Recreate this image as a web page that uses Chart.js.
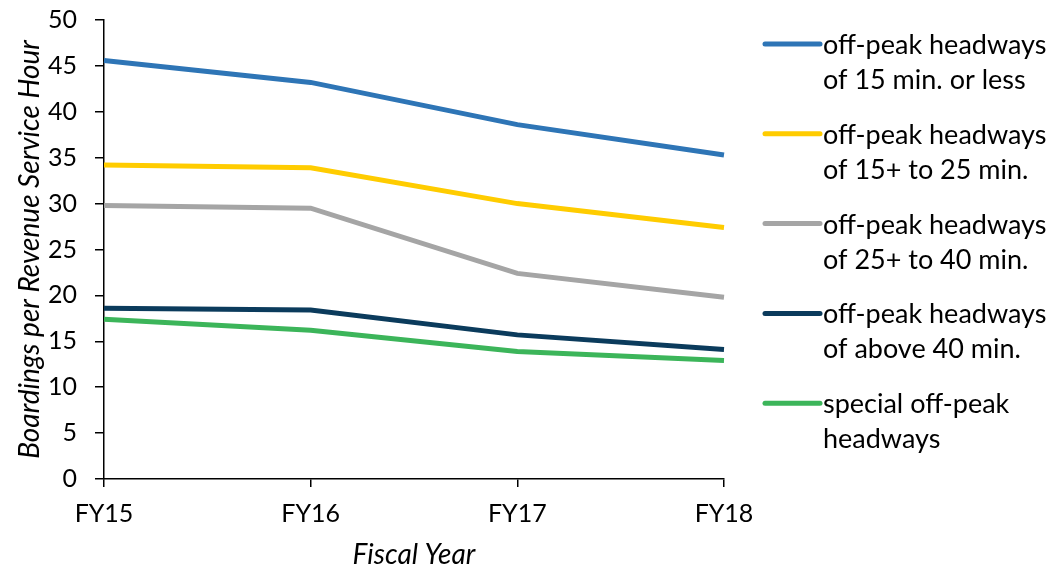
<!DOCTYPE html>
<html lang="en">
<head>
    <meta charset="UTF-8">
    <title>boardings_line</title>
    <script src="https://cdn.jsdelivr.net/npm/chart.js@4.4.1/dist/chart.umd.min.js"></script>
    <style>
        *{margin:0; padding:0;}
        body{background:#fff;}
        #wrap{width:1055px; height:569px; position:relative;}
    </style>
</head>
<body>
    <div id="wrap">
        <canvas id="lineChart" width="1055" height="569"></canvas>
    </div>

    <script>
        const years = ['FY15', 'FY16', 'FY17', 'FY18']
        const yTicks = [0, 5, 10, 15, 20, 25, 30, 35, 40, 45, 50]

        const seriesNames = [
            ['off-peak headways', 'of 15 min. or less'],
            ['off-peak headways', 'of 15+ to 25 min.'],
            ['off-peak headways', 'of 25+ to 40 min.'],
            ['off-peak headways', 'of above 40 min.'],
            ['special off-peak', 'headways']
        ]
        const under15 = [45.6, 43.2, 38.6, 35.3]
        const from15to25 = [34.2, 33.9, 30.0, 27.4]
        const from25to40 = [29.8, 29.5, 22.4, 19.8]
        const above40 = [18.6, 18.4, 15.7, 14.1]
        const special = [17.4, 16.2, 13.9, 12.9]
        const colors = ['#2e75b6', '#ffcc00', '#a5a5a5', '#0b3b5c', '#3cb55a']

        const FONT = 'Lato, "Open Sans", sans-serif'

        // legend drawn on the canvas so each entry can wrap onto two lines
        const sideLegend = {
            id:'sideLegend',
            afterDraw:function(chart, args, opts){
                const ctx = chart.ctx
                ctx.save()
                chart.data.datasets.forEach(function(ds, i){
                    const y = opts.top + i * opts.gap
                    ctx.strokeStyle = ds.borderColor
                    ctx.lineWidth = 5
                    ctx.lineCap = 'round'
                    ctx.beginPath()
                    ctx.moveTo(opts.x, y)
                    ctx.lineTo(opts.x + opts.lineLen, y)
                    ctx.stroke()

                    ctx.fillStyle = '#000'
                    ctx.font = opts.font
                    ctx.textBaseline = 'alphabetic'
                    ctx.textAlign = 'left'
                    seriesNames[i].forEach(function(txt, j){
                        ctx.fillText(txt, opts.x + opts.lineLen + 3, y + opts.base + j * opts.lineH)
                    })
                })
                ctx.restore()
            }
        }

        const makeSet = function(i, values){
            return {
                label:seriesNames[i].join(' '),
                data:values,
                borderColor:colors[i],
                backgroundColor:colors[i],
                borderWidth:5,
                pointRadius:0,
                tension:0
            }
        }

        const config = {
            type:'line',
            data:{
                labels:years,
                datasets:[
                    makeSet(0, under15),
                    makeSet(1, from15to25),
                    makeSet(2, from25to40),
                    makeSet(3, above40),
                    makeSet(4, special)
                ]
            },
            options:{
                responsive:false,
                animation:false,
                layout:{padding:{top:20, right:331, left:0, bottom:0}},
                plugins:{
                    legend:{display:false},
                    tooltip:{enabled:false},
                    sideLegend:{x:765, top:44, gap:89.8, lineLen:55, lineH:35, base:10, font:'27px ' + FONT}
                },
                scales:{
                    x:{
                        offset:false,
                        grid:{drawOnChartArea:false, drawTicks:true, tickLength:8, color:'#000', lineWidth:1.5},
                        border:{display:true, color:'#000', width:1.5},
                        ticks:{color:'#000', font:{family:FONT, size:25}, padding:12, maxRotation:0},
                        title:{display:true, text:'Fiscal Year', color:'#000', font:{family:FONT, size:28, style:'italic', lineHeight:1}, padding:{top:0, bottom:0}},
                        afterFit:function(scale){ scale.height = 90 }
                    },
                    y:{
                        min:0,
                        max:50,
                        afterBuildTicks:function(scale){ scale.ticks = yTicks.map(function(v){ return {value:v} }) },
                        grid:{drawOnChartArea:false, drawTicks:true, tickLength:9, color:'#000', lineWidth:1.5},
                        border:{display:true, color:'#000', width:1.5},
                        ticks:{color:'#000', font:{family:FONT, size:25}, padding:18},
                        title:{display:true, text:'Boardings per Revenue Service Hour', color:'#000', font:{family:FONT, size:28, style:'italic', lineHeight:1.2}, padding:{top:13, bottom:0}},
                        afterFit:function(scale){
                            scale.width = 104
                            scale.paddingTop = 0
                            scale.paddingBottom = 0
                        }
                    }
                }
            },
            plugins:[sideLegend]
        }

        const ctx = document.querySelector('#lineChart').getContext('2d')
        let lineChart = new Chart(ctx, config)
    </script>
</body>
</html>
